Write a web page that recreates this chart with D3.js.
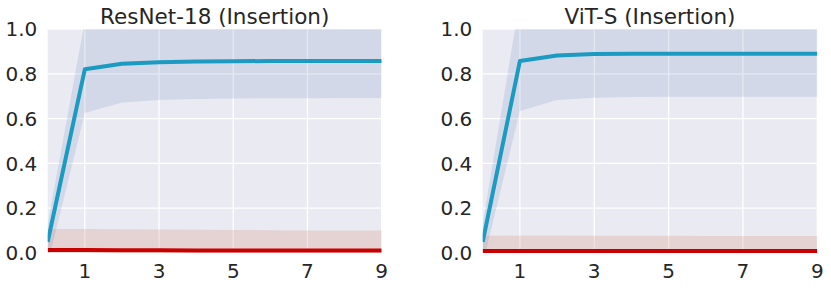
<!DOCTYPE html>
<html><head><meta charset="utf-8">
<script src="https://cdn.jsdelivr.net/npm/d3@7"></script>
<style>body{margin:0;background:#fff}svg{display:block}text{font-family:"DejaVu Sans",sans-serif;fill:#262626}</style>
</head><body><svg id="c" width="831" height="296"></svg>
<script>
const steps = [0,1,2,3,4,5,6,7,8,9];
const xTicks = [1,3,5,7,9];
const yTicks = [0,0.2,0.4,0.6,0.8,1.0];
const titles = ["ResNet-18 (Insertion)", "ViT-S (Insertion)"];
// ResNet-18
const resBlueMean  = [0.05,0.82,0.845,0.852,0.855,0.856,0.857,0.857,0.857,0.857];
const resBlueLow   = [-0.05,0.625,0.672,0.683,0.688,0.690,0.691,0.691,0.692,0.692];
const resBlueHigh  = [0.13,1.035,1.02,1.02,1.02,1.02,1.02,1.02,1.02,1.02];
const resRedMean   = [0.013,0.013,0.012,0.012,0.011,0.011,0.011,0.011,0.011,0.011];
const resRedLow    = [-0.08,-0.08,-0.08,-0.08,-0.08,-0.08,-0.08,-0.08,-0.08,-0.08];
const resRedHigh   = [0.107,0.107,0.106,0.105,0.104,0.103,0.102,0.101,0.101,0.100];
// ViT-S
const vitBlueMean  = [0.05,0.857,0.882,0.888,0.889,0.889,0.889,0.889,0.889,0.889];
const vitBlueLow   = [-0.05,0.634,0.683,0.693,0.696,0.697,0.698,0.698,0.698,0.698];
const vitBlueHigh  = [0.13,1.13,1.08,1.08,1.08,1.08,1.08,1.08,1.08,1.08];
const vitRedMean   = [0.009,0.009,0.009,0.009,0.009,0.009,0.009,0.009,0.009,0.009];
const vitRedLow    = [-0.06,-0.06,-0.06,-0.06,-0.06,-0.06,-0.06,-0.06,-0.06,-0.06];
const vitRedHigh   = [0.077,0.078,0.078,0.077,0.077,0.077,0.076,0.076,0.076,0.076];

const panels = [
  {title:titles[0], left:47.7, right:381.7, bm:resBlueMean, bl:resBlueLow, bh:resBlueHigh, rm:resRedMean, rl:resRedLow, rh:resRedHigh},
  {title:titles[1], left:482.7, right:817.3, bm:vitBlueMean, bl:vitBlueLow, bh:vitBlueHigh, rm:vitRedMean, rl:vitRedLow, rh:vitRedHigh}
];
const plotTop = 29, plotBottom = 253;
const svg = d3.select("#c");
panels.forEach((p,pi) => {
  const x = d3.scaleLinear().domain([0,9]).range([p.left,p.right]);
  const y = d3.scaleLinear().domain([0,1]).range([plotBottom,plotTop]);
  const g = svg.append("g");
  const cid = "clip"+pi;
  svg.append("clipPath").attr("id",cid).append("rect")
    .attr("x",p.left).attr("y",plotTop).attr("width",p.right-p.left).attr("height",plotBottom-plotTop);
  g.append("rect").attr("x",p.left).attr("y",plotTop).attr("width",p.right-p.left).attr("height",plotBottom-plotTop).attr("fill","#eaeaf2");
  g.selectAll(".gx").data(xTicks).join("line").attr("x1",d=>x(d)).attr("x2",d=>x(d)).attr("y1",plotTop).attr("y2",plotBottom).attr("stroke","#fff").attr("stroke-width",1.3);
  g.selectAll(".gy").data(yTicks).join("line").attr("y1",d=>y(d)).attr("y2",d=>y(d)).attr("x1",p.left).attr("x2",p.right).attr("stroke","#fff").attr("stroke-width",1.3);
  const cg = g.append("g").attr("clip-path",`url(#${cid})`);
  const area = (lo,hi) => d3.area().x((d,i)=>x(steps[i])).y0((d,i)=>y(lo[i])).y1((d,i)=>y(hi[i]))(steps);
  const line = (m) => d3.line().x((d,i)=>x(steps[i])).y((d,i)=>y(m[i]))(steps);
  cg.append("path").attr("d",area(p.rl,p.rh)).attr("fill","#d9a08f").attr("opacity",0.3);
  cg.append("path").attr("d",area(p.bl,p.bh)).attr("fill","#4c72b0").attr("opacity",0.15);
  cg.append("path").attr("d",line(p.rm)).attr("fill","none").attr("stroke","#c80000").attr("stroke-width",4);
  cg.append("path").attr("d",line(p.bm)).attr("fill","none").attr("stroke","#1b9ac2").attr("stroke-width",4).attr("stroke-linejoin","round");
  g.selectAll(".ty").data(yTicks).join("text").attr("x",p.left-10.4).attr("y",d=>y(d)).attr("dy","0.36em").attr("text-anchor","end").attr("font-size",20).text(d=>d3.format(".1f")(d));
  g.selectAll(".tx").data(xTicks).join("text").attr("x",d=>x(d)).attr("y",278.4).attr("text-anchor","middle").attr("font-size",20).text(d=>d);
  g.append("text").attr("x",(p.left+p.right)/2).attr("y",23.5).attr("text-anchor","middle").attr("font-size",21.5).text(p.title);
});
</script></body></html>
